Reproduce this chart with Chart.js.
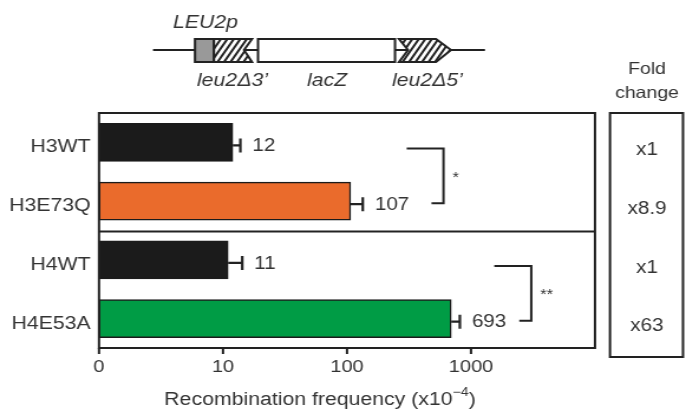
<!DOCTYPE html>
<html>
<head>
<meta charset="utf-8">
<script src="https://cdn.jsdelivr.net/npm/chart.js@4"></script>
<style>
  body { margin: 0; background: #fff; }
</style>
</head>
<body>
<!-- drawn narrow, shown wide: the source figure is stretched sideways -->
<canvas id="recChart" width="581" height="414" style="width:686px;height:414px;display:block"></canvas>
<script>
// Data
const strains = ["H3WT", "H3E73Q", "H4WT", "H4E53A"];
const recFreq = [12, 107, 11, 693];
const recErr = [1.8, 27, 3.3, 120];
const foldChange = ["x1", "x8.9", "x1", "x63"];
const barColors = ["#1b1b1b", "#ea6b2c", "#1b1b1b", "#009c45"];
const tickValues = [1, 10, 100, 1000];
const tickLabels = ["0", "10", "100", "1000"];

const SX = 686 / 581;          // horizontal stretch
const px = (v) => v / SX;      // screen x -> canvas x
const FONT = "'Liberation Sans', Arial, sans-serif";
const INK = "#333";
const LINE = "#222";

// hatch fill for the gene diagram
function hatch(ctx, path, x0, x1, y0, y1) {
    ctx.save();
    path();
    ctx.fillStyle = "#fff";
    ctx.fill();
    ctx.clip();
    ctx.strokeStyle = LINE;
    ctx.lineWidth = 2;
    for (let x = x0 - 30; x < x1 + 10; x += 5.5) {
        ctx.beginPath();
        ctx.moveTo(x, y1);
        ctx.lineTo(x + (y1 - y0) * 0.6, y0);
        ctx.stroke();
    }
    ctx.restore();
    ctx.save();
    path();
    ctx.strokeStyle = LINE;
    ctx.lineWidth = 2;
    ctx.stroke();
    ctx.restore();
}

const extras = {
    id: "extras",
    afterDraw(chart) {
        const ctx = chart.ctx;
        const x = chart.scales.x;
        const y = chart.scales.y;
        const a = chart.chartArea;

        // error bars + value labels
        ctx.save();
        ctx.strokeStyle = LINE;
        ctx.lineWidth = 2.2;
        ctx.fillStyle = INK;
        ctx.font = "17.5px " + FONT;
        ctx.textBaseline = "middle";
        recFreq.forEach((v, i) => {
            const cy = y.getPixelForValue(i) + 3;
            const xs = x.getPixelForValue(v);
            const xe = x.getPixelForValue(v + recErr[i]);
            ctx.beginPath();
            ctx.moveTo(xs, cy);
            ctx.lineTo(xe, cy);
            ctx.moveTo(xe, cy - 7);
            ctx.lineTo(xe, cy + 7);
            ctx.stroke();
            ctx.fillText(String(v), xe + px(12), cy + 1);
        });
        ctx.restore();

        // frame + divider
        ctx.save();
        ctx.strokeStyle = LINE;
        ctx.lineWidth = 2;
        ctx.strokeRect(a.left, a.top, a.right - a.left, a.bottom - a.top);
        const mid = (y.getPixelForValue(1) + y.getPixelForValue(2)) / 2 + 1;
        ctx.beginPath();
        ctx.moveTo(a.left, mid);
        ctx.lineTo(a.right, mid);
        ctx.stroke();

        // axis ticks (only up to 1000)
        x.ticks.forEach(t => {
            if (t.value > 1000) return;
            const tx = x.getPixelForValue(t.value);
            const major = tickValues.includes(t.value);
            ctx.beginPath();
            ctx.moveTo(tx, a.bottom);
            ctx.lineTo(tx, a.bottom + (major ? 6 : 4));
            ctx.stroke();
        });

        // significance brackets
        const brackets = [
            { rows: [0, 1], top: 303, bot: 480, edge: 600, mark: "*" },
            { rows: [2, 3], top: 1540, bot: 2450, edge: 3060, mark: "**" }
        ];
        ctx.lineWidth = 2;
        brackets.forEach(b => {
            const y0 = y.getPixelForValue(b.rows[0]) + 6;
            const y1 = y.getPixelForValue(b.rows[1]) + 2;
            const xe = x.getPixelForValue(b.edge);
            ctx.beginPath();
            ctx.moveTo(x.getPixelForValue(b.top), y0);
            ctx.lineTo(xe, y0);
            ctx.lineTo(xe, y1);
            ctx.lineTo(x.getPixelForValue(b.bot), y1);
            ctx.stroke();
            ctx.fillStyle = INK;
            ctx.font = "14px " + FONT;
            ctx.textBaseline = "middle";
            ctx.fillText(b.mark, xe + px(9), (y0 + y1) / 2 + 2);
        });

        // axis title with superscript
        ctx.fillStyle = INK;
        ctx.textBaseline = "alphabetic";
        const t1 = "Recombination frequency (x10";
        const sup = "\u22124";
        const t2 = ")";
        ctx.font = "12px " + FONT;
        const ws = ctx.measureText(sup).width;
        ctx.font = "18px " + FONT;
        const w1 = ctx.measureText(t1).width;
        const w2 = ctx.measureText(t2).width;
        const tx0 = px(320) - (w1 + ws + w2) / 2;
        ctx.fillText(t1, tx0, 405);
        ctx.font = "12px " + FONT;
        ctx.fillText(sup, tx0 + w1, 396);
        ctx.font = "18px " + FONT;
        ctx.fillText(t2, tx0 + w1 + ws, 405);

        // fold change panel
        ctx.strokeRect(px(610), a.top, px(73), 357 - a.top);
        ctx.textAlign = "center";
        ctx.textBaseline = "middle";
        ctx.font = "16.5px " + FONT;
        ctx.fillText("Fold", px(647), 69);
        ctx.fillText("change", px(647), 93);
        ctx.font = "17.5px " + FONT;
        foldChange.forEach((f, i) => {
            ctx.fillText(f, px(647), y.getPixelForValue(i) + 8);
        });

        // construct diagram
        ctx.beginPath();
        ctx.moveTo(px(153), 50);
        ctx.lineTo(px(485), 50);
        ctx.stroke();
        ctx.fillStyle = "#999";
        ctx.fillRect(px(195), 39, px(19), 23);
        ctx.strokeRect(px(195), 39, px(19), 23);
        hatch(ctx, () => {
            ctx.beginPath();
            ctx.moveTo(px(214), 39);
            ctx.lineTo(px(252), 39);
            ctx.lineTo(px(244), 50);
            ctx.lineTo(px(252), 62);
            ctx.lineTo(px(214), 62);
            ctx.closePath();
        }, px(214), px(252), 39, 62);
        ctx.fillStyle = "#fff";
        ctx.fillRect(px(258), 39, px(137), 23);
        ctx.strokeRect(px(258), 39, px(137), 23);
        hatch(ctx, () => {
            ctx.beginPath();
            ctx.moveTo(px(399), 39);
            ctx.lineTo(px(436), 39);
            ctx.lineTo(px(451), 50);
            ctx.lineTo(px(436), 62);
            ctx.lineTo(px(399), 62);
            ctx.lineTo(px(408), 50);
            ctx.closePath();
        }, px(399), px(451), 39, 62);

        ctx.fillStyle = INK;
        ctx.font = "italic 18px " + FONT;
        ctx.textAlign = "left";
        ctx.fillText("LEU2p", px(173), 23);
        ctx.fillText("leu2\u03943\u2019", px(197), 81);
        ctx.fillText("lacZ", px(307), 81);
        ctx.fillText("leu2\u03945\u2019", px(392), 81);
        ctx.restore();
    }
};

const ctx = document.getElementById("recChart").getContext("2d");
new Chart(ctx, {
    type: "bar",
    data: {
        labels: strains,
        datasets: [
            {
                data: recFreq,
                backgroundColor: barColors,
                borderColor: "#1b1b1b",
                borderWidth: 1.5,
                borderSkipped: false,
                barThickness: 38
            }
        ]
    },
    options: {
        indexAxis: "y",
        responsive: false,
        devicePixelRatio: 1,
        animation: false,
        layout: { padding: { top: 113, right: px(91), bottom: 0, left: 0 } },
        plugins: { legend: { display: false }, tooltip: { enabled: false } },
        scales: {
            x: {
                type: "logarithmic",
                min: 1,
                max: 10000,
                grid: { display: false, drawTicks: false },
                border: { display: false },
                afterFit: (s) => { s.height = 414 - 348; },
                ticks: {
                    autoSkip: false,
                    maxRotation: 0,
                    padding: 9,
                    color: INK,
                    font: { family: FONT, size: 17 },
                    callback: (v) => {
                        const k = tickValues.indexOf(v);
                        return k >= 0 ? tickLabels[k] : null;
                    }
                }
            },
            y: {
                grid: { display: false, drawTicks: false },
                border: { display: false },
                afterFit: (s) => { s.width = px(99); },
                ticks: {
                    padding: 7,
                    labelOffset: 5,
                    color: INK,
                    font: { family: FONT, size: 18 }
                }
            }
        }
    },
    plugins: [extras]
});
</script>
</body>
</html>
